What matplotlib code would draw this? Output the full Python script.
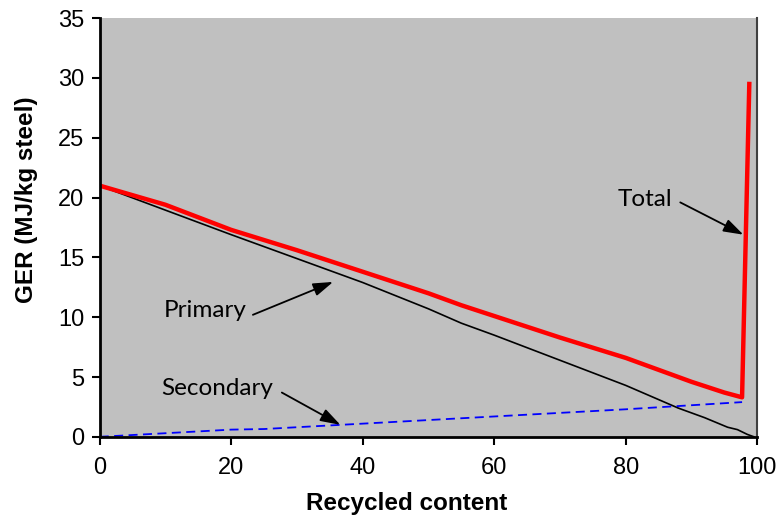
import matplotlib.pyplot as plt

# recycled content (%) and GER (MJ/kg steel)
total_x = [0, 10, 20, 30, 40, 50, 55, 60, 70, 80, 85, 90, 95, 97.7, 98.8]
total_y = [21.0, 19.4, 17.3, 15.6, 13.8, 12.0, 11.0, 10.1, 8.3, 6.6, 5.6, 4.6, 3.7, 3.3, 29.5]

primary_x = [0, 20, 40, 50, 55, 60, 80, 88, 92, 95.5, 97, 98.5, 99.5]
primary_y = [21.0, 16.9, 12.9, 10.7, 9.5, 8.5, 4.3, 2.4, 1.6, 0.8, 0.6, 0.2, 0.0]

secondary_x = [0, 10, 20, 25, 40, 60, 80, 97.7]
secondary_y = [0.0, 0.3, 0.6, 0.65, 1.1, 1.7, 2.3, 2.9]

plt.rcParams['font.family'] = ['Liberation Sans', 'DejaVu Sans']

fig = plt.figure(figsize=(7.79, 5.2), dpi=100)
ax = fig.add_axes([0.128, 0.160, 0.844, 0.805])
ax.set_facecolor('#c0c0c0')

ax.plot(primary_x, primary_y, color='black', linewidth=1.2)
ax.plot(secondary_x, secondary_y, color='blue', linewidth=1.3, linestyle=(0, (5, 3)))
ax.plot(total_x, total_y, color='red', linewidth=3.2)

ax.set_xlim(0, 100)
ax.set_ylim(0, 35)
ax.set_xticks(range(0, 101, 20))
ax.set_yticks(range(0, 36, 5))
ax.tick_params(labelsize=17, direction='out', length=6, width=1.5, pad=5)
ax.tick_params(axis='x', pad=8.5)
ax.set_xlabel('Recycled content', fontsize=17.5, fontweight='bold')
ax.set_ylabel('GER (MJ/kg steel)', fontsize=17.5, fontweight='bold')
ax.xaxis.set_label_coords(0.467, -0.131)
ax.yaxis.set_label_coords(-0.094, 0.566)

for s in ['left', 'bottom']:
    ax.spines[s].set_linewidth(2)
ax.spines['top'].set_visible(False)
ax.spines['right'].set_color('#404040')
ax.spines['right'].set_linewidth(1.5)

afont = dict(fontsize=17.5, family=['Lato', 'DejaVu Sans'], ha='center', va='center')
aprops = dict(arrowstyle='-|>,head_length=0.55,head_width=0.18', color='black', lw=1.3,
              mutation_scale=22, shrinkA=0, shrinkB=0)

# label text, arrow tail, arrow head
notes = [
    ('Total', (82.9, 19.8), (88.3, 19.6), (97.9, 16.9)),
    ('Primary', (16.0, 10.6), (23.3, 10.2), (35.5, 12.95)),
    ('Secondary', (17.8, 4.0), (27.7, 3.7), (36.6, 1.0)),
]
for label, pos, tail, head in notes:
    ax.text(pos[0], pos[1], label, **afont)
    ax.annotate('', xy=head, xytext=tail, arrowprops=aprops)

fig.savefig('out.png', dpi=100)
